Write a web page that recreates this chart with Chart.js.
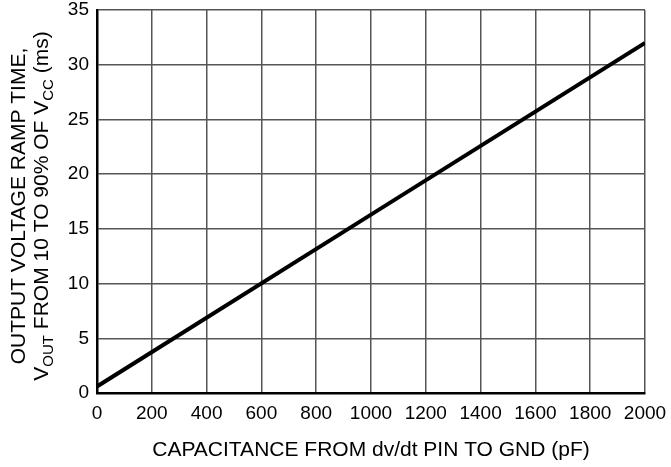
<!DOCTYPE html>
<html>
<head>
<meta charset="utf-8">
<script src="https://cdn.jsdelivr.net/npm/chart.js@4"></script>
<style>
  html, body { margin: 0; padding: 0; background: #fff; }
  #wrap { width: 671px; height: 467px; }
</style>
</head>
<body>
<div id="wrap"><canvas id="chart" width="671" height="467"></canvas></div>
<script>
// capacitance (pF) vs ramp time (ms)
const capacitance = [0, 1000, 2000];
const rampTime = [0.6, 16.3, 32.0];

const xTicks = [0, 200, 400, 600, 800, 1000, 1200, 1400, 1600, 1800, 2000];
const yTicks = [0, 5, 10, 15, 20, 25, 30, 35];

const FONT = "'Liberation Sans', Arial, Helvetica, sans-serif";

// y title has subscripts, so draw it by hand
const yTitlePlugin = {
  id: "yTitle",
  afterDraw(chart) {
    const ctx = chart.ctx;
    const cy = 206;
    ctx.save();
    ctx.fillStyle = "#000";
    ctx.textBaseline = "alphabetic";

    // line 1
    ctx.save();
    ctx.translate(25, cy);
    ctx.rotate(-Math.PI / 2);
    ctx.font = "21px " + FONT;
    ctx.textAlign = "center";
    ctx.fillText("OUTPUT VOLTAGE RAMP TIME,", 0, 0);
    ctx.restore();

    // line 2 with subscripts
    const parts = [
      { t: "V", sub: false },
      { t: "OUT", sub: true },
      { t: " FROM 10 TO 90% OF V", sub: false },
      { t: "CC", sub: true },
      { t: " (ms)", sub: false }
    ];
    const big = "21px " + FONT;
    const small = "15px " + FONT;
    let total = 0;
    parts.forEach(p => {
      ctx.font = p.sub ? small : big;
      total += ctx.measureText(p.t).width;
    });
    ctx.save();
    ctx.translate(48, cy);
    ctx.rotate(-Math.PI / 2);
    ctx.textAlign = "left";
    let x = -total / 2;
    parts.forEach(p => {
      ctx.font = p.sub ? small : big;
      ctx.fillText(p.t, x, p.sub ? 5 : 0);
      x += ctx.measureText(p.t).width;
    });
    ctx.restore();
    ctx.restore();
  }
};

new Chart(document.getElementById("chart"), {
  type: "line",
  data: {
    datasets: [{
      data: capacitance.map((c, i) => ({ x: c, y: rampTime[i] })),
      borderColor: "#000",
      borderWidth: 4,
      pointRadius: 0,
      tension: 0,
      fill: false
    }]
  },
  options: {
    responsive: false,
    animation: false,
    layout: { padding: { top: 10, right: 26, left: 0, bottom: 0 } },
    plugins: { legend: { display: false }, tooltip: { enabled: false } },
    scales: {
      x: {
        type: "linear",
        min: 0,
        max: 2000,
        afterBuildTicks: axis => { axis.ticks = xTicks.map(v => ({ value: v })); },
        afterFit: axis => {
          axis.height = 74;
          axis.paddingLeft = 0;
          axis.paddingRight = 0;
        },
        grid: { color: "#555", lineWidth: 1.5, drawTicks: false },
        border: { color: "#000", width: 2.5 },
        ticks: {
          color: "#000",
          font: { family: FONT, size: 19 },
          padding: 9,
          maxRotation: 0,
          autoSkip: false,
          callback: v => String(v)
        },
        title: {
          display: true,
          text: "CAPACITANCE FROM dv/dt PIN TO GND (pF)",
          color: "#000",
          font: { family: FONT, size: 21 },
          padding: { top: 14 }
        }
      },
      y: {
        type: "linear",
        min: 0,
        max: 35,
        afterBuildTicks: axis => { axis.ticks = yTicks.map(v => ({ value: v })); },
        afterFit: axis => {
          axis.width = 97;
          axis.paddingTop = 0;
          axis.paddingBottom = 0;
        },
        grid: { color: "#555", lineWidth: 1.5, drawTicks: false },
        border: { color: "#000", width: 2.5 },
        ticks: {
          color: "#000",
          font: { family: FONT, size: 19 },
          padding: 8,
          callback: v => String(v)
        }
      }
    }
  },
  plugins: [yTitlePlugin]
});
</script>
</body>
</html>
